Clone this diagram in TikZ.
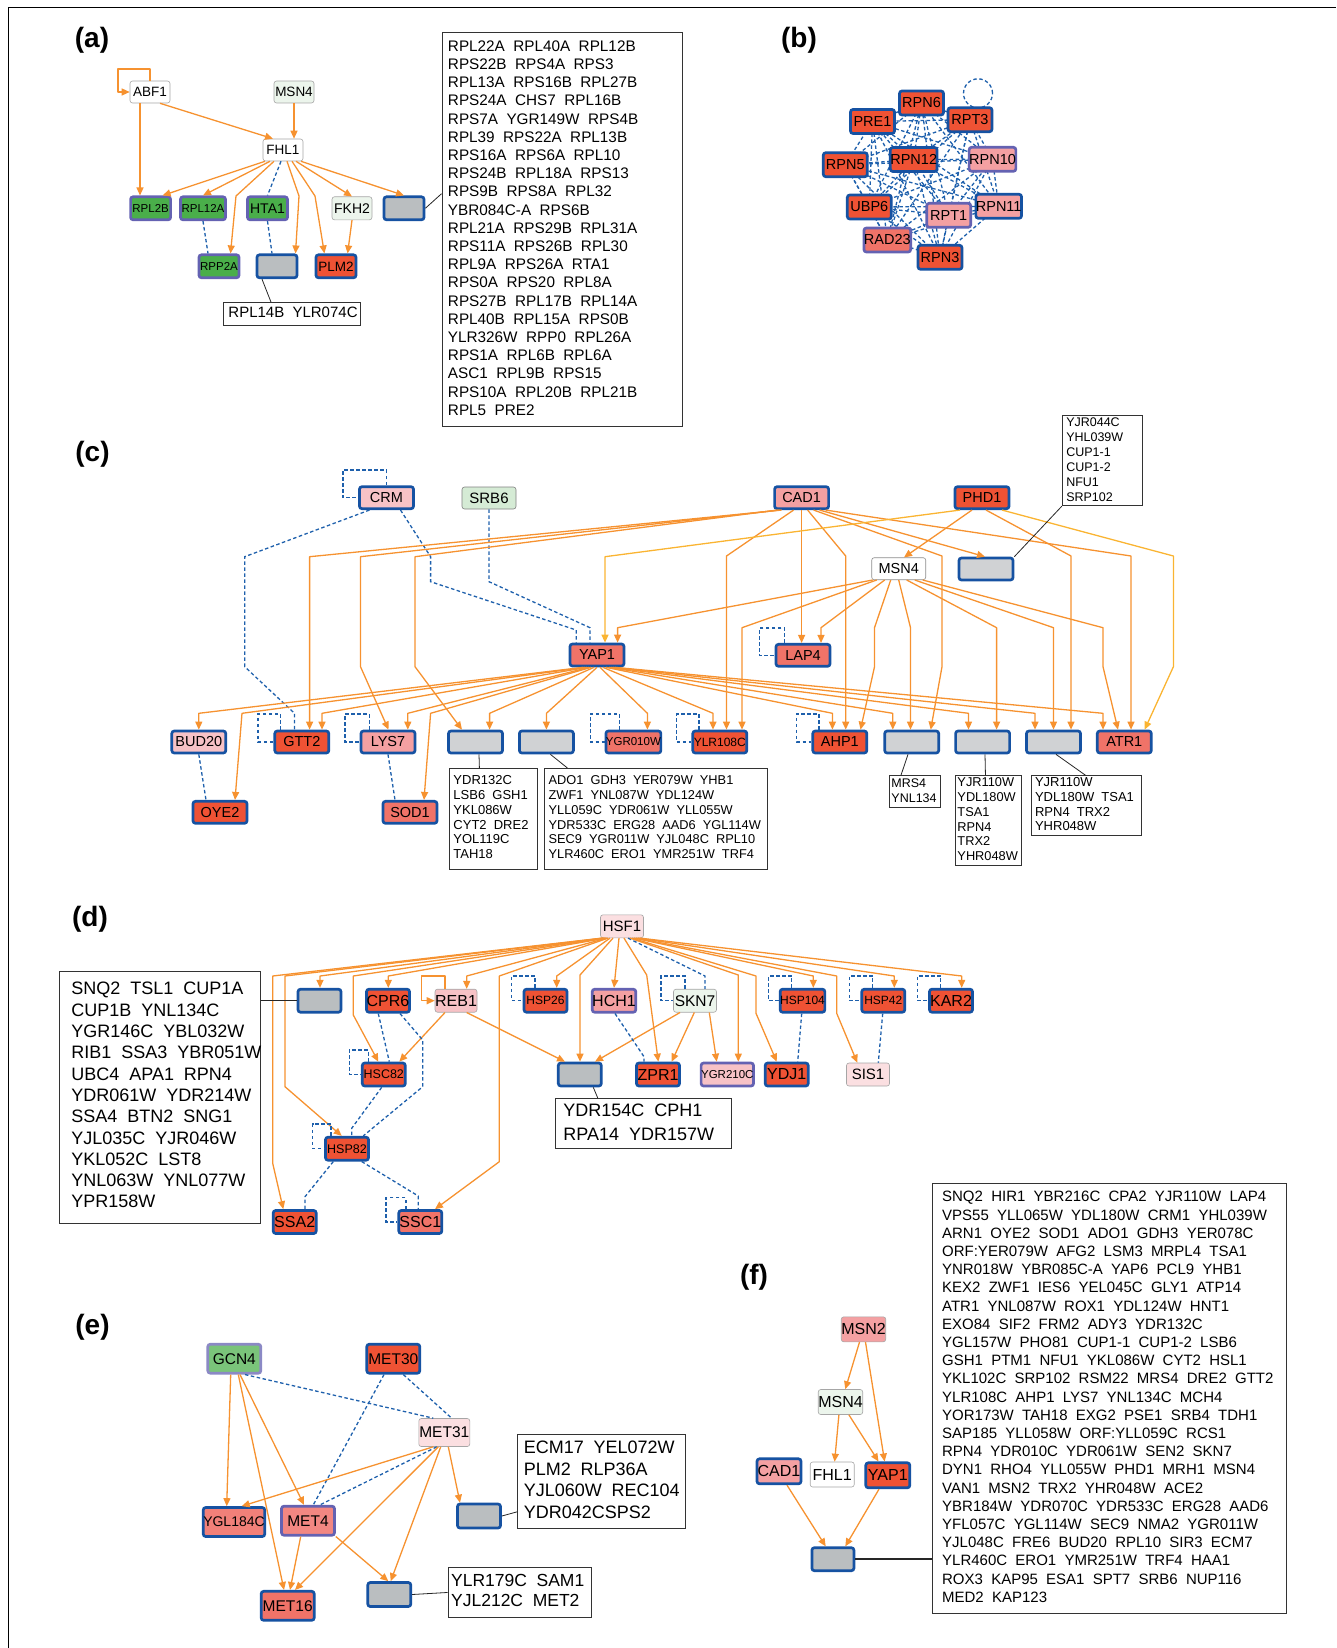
\documentclass[tikz,border=0pt]{standalone}
\usepackage{fontspec}
\setmainfont{Liberation Sans}
\usetikzlibrary{arrows.meta,calc}
\pgfdeclarelayer{background}
\pgfsetlayers{background,main}

\definecolor{tgblue}{RGB}{22,82,162}
\definecolor{tgpurple}{RGB}{100,98,178}
\definecolor{regorange}{RGB}{246,146,48}
\definecolor{regyellow}{RGB}{250,180,50}
\definecolor{ppiblue}{RGB}{30,96,172}
\definecolor{upred}{RGB}{239,82,52}
\definecolor{upsalmon}{RGB}{240,115,104}
\definecolor{uppink}{RGB}{244,160,162}
\definecolor{uplight}{RGB}{247,194,198}
\definecolor{uppale}{RGB}{251,223,225}
\definecolor{dngreen}{RGB}{74,174,74}
\definecolor{dnlight}{RGB}{122,196,122}
\definecolor{srbgreen}{RGB}{213,235,213}
\definecolor{palegreen}{RGB}{236,245,236}
\definecolor{boxgray}{RGB}{186,190,192}
\definecolor{boxgrayL}{RGB}{208,210,212}

\newcommand{\gfs}[1]{\fontsize{#1}{#1}\selectfont}
\newcommand{\glines}[1]{\noindent\begin{tabular}{@{}l@{}}#1\end{tabular}}

\tikzset{
  gene/.style={rounded corners=2.5pt, inner sep=0pt, minimum width=54pt, minimum height=22pt, font=\gfs{13}},
  plain/.style={gene, draw=black!35, line width=0.6pt, fill=white},
  tgb/.style={gene, draw=tgblue, line width=2.7pt},
  tgp/.style={gene, draw=tgpurple, line width=2.7pt},
  grayb/.style={tgb, fill=boxgray},
  reg/.style={draw=regorange, line width=1.3pt, line join=round, -{Triangle[length=8pt,width=7pt]}},
  ppi/.style={draw=ppiblue, line width=1.3pt, dash pattern=on 3.5pt off 2.5pt},
  lnk/.style={draw=black!85, line width=0.8pt},
  glist/.style={draw=black!80, line width=0.9pt, anchor=north west, align=left, inner ysep=0pt,
    execute at begin node={\spaceskip=0.55em\relax}},
  plabel/.style={font=\bfseries\gfs{28}},
}

\begin{document}
\begin{tikzpicture}[x=1pt,y=-1pt]
\useasboundingbox (0,0) rectangle (1336,1648);
\draw[line width=0.9pt] (8,1648) -- (8,7) -- (1336,7);

% (a)
\node[plabel] (la) at (92,40) {(a)};
\begin{scope}[gene/.append style={minimum width=40pt, minimum height=23pt, font=\gfs{13.5}}]
\node[plain, minimum height=22pt] (ABF1) at (150,92) {ABF1};
\node[plain, minimum height=22pt, fill=palegreen] (MSN4a) at (294,92) {MSN4};
\node[plain, minimum height=22pt] (FHL1a) at (283,150) {FHL1};
\node[tgp, fill=dngreen, font=\gfs{11.5}] (RPL2B) at (150.6,208.3) {RPL2B};
\node[tgp, fill=dngreen, font=\gfs{11.5}, minimum width=45pt] (RPL12A) at (203,208.3) {RPL12A};
\node[tgp, fill=dngreen, font=\gfs{14}] (HTA1) at (267.5,208.3) {HTA1};
\node[plain, fill=palegreen, font=\gfs{14}] (FKH2) at (352,208.3) {FKH2};
\node[grayb] (grayA1) at (404,208.3) {};
\node[tgp, fill=dngreen, font=\gfs{11.5}] (RPP2A) at (219,266.3) {RPP2A};
\node[grayb] (grayA2) at (277,266.3) {};
\node[tgb, fill=upred] (PLM2) at (336,266.3) {PLM2};
\end{scope}
\draw[reg] (ABF1.north) -- (150,69) -- (118,69) -- (118,92) -- (ABF1.west);
\draw[reg] ([xshift=10pt]ABF1.south) -- ([xshift=-10pt]FHL1a.north);
\draw[reg] ([xshift=-10pt]ABF1.south) -- ([xshift=-10.6pt]RPL2B.north);
\draw[reg] (MSN4a.south) -- ([xshift=11pt]FHL1a.north);
\draw[reg] ([xshift=-18pt]FHL1a.south) -- ([xshift=12pt]RPL2B.north);
\draw[reg] ([xshift=-13pt]FHL1a.south) -- (RPL12A.north);
\draw[reg] ([xshift=-9pt]FHL1a.south) -- (236,196) -- ([xshift=11.5pt]RPP2A.north);
\draw[ppi] ([xshift=-2pt]FHL1a.south) -- (HTA1.north);
\draw[reg] ([xshift=4pt]FHL1a.south) -- (299,196) -- ([xshift=18.5pt]grayA2.north);
\draw[reg] ([xshift=9pt]FHL1a.south) -- (315,196) -- ([xshift=-11.6pt]PLM2.north);
\draw[reg] ([xshift=13pt]FHL1a.south) -- (FKH2.north);
\draw[reg] ([xshift=18pt]FHL1a.south) -- (grayA1.north);
\draw[ppi] (RPL12A.south) -- ([xshift=-11pt]RPP2A.north);
\draw[ppi] (HTA1.south) -- ([xshift=-5pt]grayA2.north);
\draw[reg] (FKH2.south) -- ([xshift=11.6pt]PLM2.north);
\node[glist, font=\fontsize{15.3}{18.2}\selectfont, text width=228pt, minimum height=394pt, inner xsep=6pt] (lstA1) at (441.5,32.3) {\glines{RPL22A RPL40A RPL12B\\ RPS22B RPS4A RPS3\\ RPL13A RPS16B RPL27B\\ RPS24A CHS7 RPL16B\\ RPS7A YGR149W RPS4B\\ RPL39 RPS22A RPL13B\\ RPS16A RPS6A RPL10\\ RPS24B RPL18A RPS13\\ RPS9B RPS8A RPL32\\ YBR084C-A RPS6B\\ RPL21A RPS29B RPL31A\\ RPS11A RPS26B RPL30\\ RPL9A RPS26A RTA1\\ RPS0A RPS20 RPL8A\\ RPS27B RPL17B RPL14A\\ RPL40B RPL15A RPS0B\\ YLR326W RPP0 RPL26A\\ RPS1A RPL6B RPL6A\\ ASC1 RPL9B RPS15\\ RPS10A RPL20B RPL21B\\ RPL5 PRE2}};
\node[glist, font=\fontsize{15}{18}\selectfont, text width=127pt, minimum height=23pt, inner xsep=5pt] (lstA2) at (223,302) {\glines{RPL14B YLR074C}};
\draw[lnk] (grayA1.east) -- ([yshift=36pt]lstA1.west);
\draw[lnk] ([xshift=-15pt]grayA2.south) -- ([xshift=-21pt]lstA2.north);

% (b)
\node[plabel] (lb) at (799,40) {(b)};
\begin{scope}[gene/.append style={minimum width=44pt, minimum height=24pt, font=\gfs{14.5}}]
\node[tgb, fill=upred] (RPN6) at (921.5,103) {RPN6};
\node[tgb, fill=upred] (PRE1) at (872.5,121.5) {PRE1};
\node[tgb, fill=upred] (RPT3) at (970,119.7) {RPT3};
\node[tgb, fill=upred] (RPN12) at (913.7,159.5) {RPN12};
\node[tgp, fill=uppink] (RPN10) at (992.5,159.3) {RPN10};
\node[tgb, fill=upred] (RPN5) at (845.3,164.7) {RPN5};
\node[tgb, fill=upred] (UBP6) at (869.3,207) {UBP6};
\node[tgp, fill=uppink] (RPT1) at (948.7,215.3) {RPT1};
\node[tgb, fill=uppink] (RPN11) at (998.7,206.3) {RPN11};
\node[tgp, fill=upsalmon] (RAD23) at (887.3,240) {RAD23};
\node[tgb, fill=upred] (RPN3) at (940,257.3) {RPN3};
\end{scope}
\begin{pgfonlayer}{background}
\foreach \a [count=\i] in {PRE1,RPN6,RPT3,RPN5,RPN12,RPN10,UBP6,RPT1,RPN11,RAD23,RPN3}
  \foreach \b [count=\j] in {PRE1,RPN6,RPT3,RPN5,RPN12,RPN10,UBP6,RPT1,RPN11,RAD23,RPN3}
    {\ifnum\j>\i \draw[ppi] (\a.center) -- (\b.center); \fi}
\draw[ppi] ($(RPT3.north)+(8,-13)$) circle (14.5pt);
\end{pgfonlayer}

% (c)
\node[plabel] (lc) at (92.5,454) {(c)};
\begin{scope}[gene/.append style={minimum width=54pt, minimum height=22pt, font=\gfs{14.5}}]
\node[tgb, fill=uplight] (CRM) at (386.5,497.7) {CRM};
\node[plain, fill=srbgreen, draw=black!50, font=\gfs{15}] (SRB6) at (489,498) {SRB6};
\node[tgb, fill=uppink] (CAD1c) at (801.6,497.7) {CAD1};
\node[tgb, fill=upred] (PHD1) at (982,497.7) {PHD1};
\node[plain, draw=black!45] (MSN4c) at (898.7,568.7) {MSN4};
\node[grayb, fill=boxgrayL] (grayC0) at (986,569) {};
\node[tgb, fill=upsalmon] (YAP1c) at (597,655) {YAP1};
\node[tgb, fill=upsalmon] (LAP4) at (803,655.3) {LAP4};
\node[tgb, fill=uplight] (BUD20) at (198.8,742) {BUD20};
\node[tgb, fill=upred] (GTT2) at (301.8,742) {GTT2};
\node[tgb, fill=uppink] (LYS7) at (388,742) {LYS7};
\node[grayb, fill=boxgrayL] (grayC1) at (475.5,742) {};
\node[grayb, fill=boxgrayL] (grayC2) at (546.4,742) {};
\node[tgb, fill=upsalmon, font=\gfs{11.5}] (YGR010W) at (633.4,742) {YGR010W};
\node[tgb, fill=upred, font=\gfs{12}] (YLR108C) at (719.8,742) {YLR108C};
\node[tgb, fill=upred] (AHP1) at (839.8,742) {AHP1};
\node[grayb, fill=boxgrayL] (grayC3) at (911.7,742) {};
\node[grayb, fill=boxgrayL] (grayC4) at (982.6,742) {};
\node[grayb, fill=boxgrayL] (grayC5) at (1053.5,742) {};
\node[tgb, fill=upsalmon] (ATR1) at (1124.3,742) {ATR1};
\node[tgb, fill=upred] (OYE2) at (220,812.3) {OYE2};
\node[tgb, fill=upsalmon] (SOD1) at (410,812.3) {SOD1};
\end{scope}
\draw[ppi] (CRM.north) -- (386.5,470) -- (343,470) -- (343,497.7) -- (CRM.west);
\draw[ppi] ([xshift=-17pt]CRM.south) -- (244.7,556.7) -- (244.7,666.7) -- (294.5,713.3) -- ([xshift=-7.3pt]GTT2.north);
\draw[ppi] ([xshift=14pt]CRM.south) -- (430.6,556.7) -- (430.6,581.7) -- (576.2,630) -- ([xshift=-20.8pt]YAP1c.north);
\draw[ppi] (SRB6.south) -- (489,581.7) -- (590,627.7) -- ([xshift=-7pt]YAP1c.north);
\draw[reg] ([xshift=-20pt]CAD1c.south) -- (309.6,556.7) -- ([xshift=7.8pt]GTT2.north);
\draw[reg] ([xshift=-22pt]CAD1c.south) -- (360.5,556.7) -- (360.5,666.7) -- ([xshift=0.5pt]LYS7.north);
\draw[reg] ([xshift=-24pt]CAD1c.south) -- (415,556.7) -- (415,666.7) -- ([xshift=-13.5pt]grayC1.north);
\draw[reg] ([xshift=-8pt]CAD1c.south) -- (726.5,556) -- ([xshift=6.7pt]YLR108C.north);
\draw[reg] (CAD1c.south) -- ([xshift=-1.4pt]LAP4.north);
\draw[reg] ([xshift=6pt]CAD1c.south) -- (845.7,556) -- ([xshift=5.9pt]AHP1.north);
\draw[reg] ([xshift=12pt]CAD1c.south) -- (942,556) -- (942,666.7) -- ([xshift=19pt]grayC3.north);
\draw[reg] ([xshift=18pt]CAD1c.south) -- ([xshift=-1pt]grayC0.north);
\draw[reg] ([xshift=24pt]CAD1c.south) -- (1131,556) -- ([xshift=6.7pt]ATR1.north);
\draw[reg, draw=regyellow] ([xshift=-22pt]PHD1.south) -- (605,556.7) -- ([xshift=8pt]YAP1c.north);
\draw[reg] ([xshift=-10pt]PHD1.south) -- ([xshift=5.3pt]MSN4c.north);
\draw[reg] ([xshift=4pt]PHD1.south) -- (1071,556) -- ([xshift=17.5pt]grayC5.north);
\draw[reg, draw=regyellow] ([xshift=20pt]PHD1.south) -- (1173.4,556) -- (1173.4,666.7) -- ([xshift=20.3pt]ATR1.north);
\draw[reg] ([xshift=-26pt]MSN4c.south) -- (617.6,627.7) -- ([xshift=20.6pt]YAP1c.north);
\draw[reg] ([xshift=-22pt]MSN4c.south) -- (742,627.7) -- ([xshift=22.2pt]YLR108C.north);
\draw[reg] ([xshift=-14pt]MSN4c.south) -- (821,627.7) -- ([xshift=18pt]LAP4.north);
\draw[reg] ([xshift=-8pt]MSN4c.south) -- (874.5,627.7) -- (874.5,666.7) -- ([xshift=20.7pt]AHP1.north);
\draw[reg] (MSN4c.south) -- (910.5,627.7) -- ([xshift=-1.2pt]grayC3.north);
\draw[reg] ([xshift=8pt]MSN4c.south) -- (996.6,627.7) -- ([xshift=14pt]grayC4.north);
\draw[reg] ([xshift=16pt]MSN4c.south) -- (1053.5,627.7) -- (grayC5.north);
\draw[reg] ([xshift=24pt]MSN4c.south) -- (1103,627.7) -- (1103,666.7) -- ([xshift=-6.3pt]ATR1.north);
\draw[reg] ([xshift=-14pt]YAP1c.south) -- (198.8,713.3) -- (BUD20.north);
\draw[reg] ([xshift=-12pt]YAP1c.south) -- (242,713.3) -- ([xshift=15pt]OYE2.north);
\draw[reg] ([xshift=-10pt]YAP1c.south) -- (322,713.3) -- ([xshift=20.2pt]GTT2.north);
\draw[reg] ([xshift=-8pt]YAP1c.south) -- (407.8,713.3) -- ([xshift=19.8pt]LYS7.north);
\draw[reg] ([xshift=-6pt]YAP1c.south) -- (430.6,713.3) -- ([xshift=14pt]SOD1.north);
\draw[reg] ([xshift=-3pt]YAP1c.south) -- (489.6,713.3) -- ([xshift=14.1pt]grayC1.north);
\draw[reg] (YAP1c.south) -- (546.4,713.3) -- (grayC2.north);
\draw[reg] ([xshift=3pt]YAP1c.south) -- (647.4,713.3) -- ([xshift=14pt]YGR010W.north);
\draw[reg] ([xshift=6pt]YAP1c.south) -- (713,713.3) -- ([xshift=-6.8pt]YLR108C.north);
\draw[reg] ([xshift=9pt]YAP1c.south) -- (832.4,713.3) -- ([xshift=-7.4pt]AHP1.north);
\draw[reg] ([xshift=12pt]YAP1c.south) -- (892.8,713.3) -- ([xshift=-18.9pt]grayC3.north);
\draw[reg] ([xshift=14pt]YAP1c.south) -- (968.5,713.3) -- ([xshift=-14.1pt]grayC4.north);
\draw[reg] ([xshift=16pt]YAP1c.south) -- (1035,713.3) -- ([xshift=-18.5pt]grayC5.north);
\draw[reg] ([xshift=18pt]YAP1c.south) -- (1103,713.3) -- ([xshift=-21.3pt]ATR1.north);
\draw[ppi] ([xshift=-21.3pt]GTT2.north) -- (280.5,714) -- (258,714) -- (258,742) -- (GTT2.west);
\draw[ppi] ([xshift=-18.7pt]LYS7.north) -- (369.3,714) -- (345,714) -- (345,742) -- (LYS7.west);
\draw[ppi] ([xshift=-14pt]YGR010W.north) -- (619.4,714) -- (590.3,714) -- (590.3,742) -- (YGR010W.west);
\draw[ppi] ([xshift=-20.8pt]YLR108C.north) -- (699,714) -- (676.7,714) -- (676.7,742) -- (YLR108C.west);
\draw[ppi] ([xshift=-20.8pt]AHP1.north) -- (819,714) -- (796.6,714) -- (796.6,742) -- (AHP1.west);
\draw[ppi] ([xshift=-18.6pt]LAP4.north) -- (784.4,628) -- (759.5,628) -- (759.5,655.3) -- (LAP4.west);
\draw[ppi] (BUD20.south) -- ([xshift=-14pt]OYE2.north);
\draw[ppi] (LYS7.south) -- ([xshift=-15pt]SOD1.north);
\node[glist, font=\fontsize{12.5}{15}\selectfont, text width=72pt, minimum height=89.4pt, inner xsep=4pt] (lstC0) at (1061.8,415.3) {\glines{YJR044C\\ YHL039W\\ CUP1-1\\ CUP1-2\\ NFU1\\ SRP102}};
\node[glist, font=\fontsize{13}{14.8}\selectfont, text width=80.3pt, minimum height=100.7pt, inner xsep=4pt] (lstC1) at (449,768) {\glines{YDR132C\\ LSB6 GSH1\\ YKL086W\\ CYT2 DRE2\\ YOL119C\\ TAH18}};
\node[glist, font=\fontsize{12.8}{14.8}\selectfont, text width=214.8pt, minimum height=100.7pt, inner xsep=4pt] (lstC2) at (544.2,768) {\glines{ADO1 GDH3 YER079W YHB1\\ ZWF1 YNL087W YDL124W\\ YLL059C YDR061W YLL055W\\ YDR533C ERG28 AAD6 YGL114W\\ SEC9 YGR011W YJL048C RPL10\\ YLR460C ERO1 YMR251W TRF4}};
\node[glist, font=\fontsize{12.5}{15}\selectfont, text width=46.8pt, minimum height=32pt, inner xsep=2pt] (lstC3) at (889,775.3) {\glines{MRS4\\ YNL134}};
\node[glist, font=\fontsize{12.8}{14.8}\selectfont, text width=62pt, minimum height=90pt, inner xsep=2pt] (lstC4) at (955,775.3) {\glines{YJR110W\\ YDL180W\\ TSA1\\ RPN4\\ TRX2\\ YHR048W}};
\node[glist, font=\fontsize{13}{14.8}\selectfont, text width=102pt, minimum height=60pt, inner xsep=4pt] (lstC5) at (1030.6,775.3) {\glines{YJR110W\\ YDL180W TSA1\\ RPN4 TRX2\\ YHR048W}};
\draw[lnk] (grayC0.north east) -- (lstC0.south west);
\draw[lnk] ([xshift=3.5pt]grayC1.south) -- ([xshift=-14.2pt]lstC1.north);
\draw[lnk] ([xshift=4pt]grayC2.south) -- ([xshift=-88.6pt]lstC2.north);
\draw[lnk] ([xshift=-3.7pt]grayC3.south) -- ([xshift=-13.9pt]lstC3.north);
\draw[lnk] ([xshift=2.4pt]grayC4.south) -- ([xshift=-3pt]lstC4.north);
\draw[lnk] ([xshift=2.5pt]grayC5.south) -- ([xshift=-0.5pt]lstC5.north);

% (d)
\node[plabel] (ld) at (90,919) {(d)};
\begin{scope}[gene/.append style={minimum width=43pt, minimum height=23pt, font=\gfs{15}}]
\node[plain, fill=uppale] (HSF1) at (622,926.3) {HSF1};
\node[grayb] (grayD1) at (319.5,1000.7) {};
\node[tgb, fill=upred, font=\gfs{16}] (CPR6) at (388,1000.7) {CPR6};
\node[plain, fill=uplight, minimum width=42pt, font=\gfs{16}] (REB1) at (456,1000.7) {REB1};
\node[tgb, fill=upred, font=\gfs{12}] (HSP26) at (545.5,1000.7) {HSP26};
\node[tgp, fill=uppink, font=\gfs{16}] (HCH1) at (614,1000.7) {HCH1};
\node[plain, fill=palegreen, font=\gfs{15.5}] (SKN7) at (695,1000.7) {SKN7};
\node[tgb, fill=upred, font=\gfs{12}] (HSP104) at (802.5,1000.7) {HSP104};
\node[tgb, fill=upred, font=\gfs{12}] (HSP42) at (883.3,1000.7) {HSP42};
\node[tgb, fill=upred, font=\gfs{16}] (KAR2) at (951,1000.7) {KAR2};
\node[tgb, fill=upred, font=\gfs{12.5}] (HSC82) at (383.8,1074.5) {HSC82};
\node[grayb] (grayD2) at (579.8,1074.5) {};
\node[tgb, fill=upred, font=\gfs{16}] (ZPR1) at (658,1074.5) {ZPR1};
\node[tgp, fill=uplight, font=\gfs{11.5}] (YGR210C) at (727.3,1074.5) {YGR210C};
\node[tgb, fill=upred, font=\gfs{16}] (YDJ1) at (786.7,1074.5) {YDJ1};
\node[plain, fill=uppale] (SIS1) at (868,1074.5) {SIS1};
\node[tgb, fill=upred, font=\gfs{12.5}] (HSP82) at (347,1148.7) {HSP82};
\node[tgb, fill=upred, font=\gfs{16}] (SSA2) at (294.7,1222) {SSA2};
\node[tgb, fill=upsalmon, font=\gfs{16}] (SSC1) at (420.3,1222) {SSC1};
\end{scope}
\draw[reg] ([xshift=-20pt]HSF1.south) -- (272.7,976) -- (272.7,1163.3) -- ([xshift=-11.4pt]SSA2.north);
\draw[reg] ([xshift=-19pt]HSF1.south) -- (285,976) -- (285,1086.7) -- ([xshift=-5.3pt]HSP82.north);
\draw[reg] ([xshift=-18pt]HSF1.south) -- (320,976) -- ([xshift=0.5pt]grayD1.north);
\draw[reg] ([xshift=-17pt]HSF1.south) -- (353.3,976) -- (353.3,1015) -- ([xshift=-5.5pt]HSC82.north);
\draw[reg] ([xshift=-16pt]HSF1.south) -- (388.3,976) -- ([xshift=0.3pt]CPR6.north);
\draw[reg] ([xshift=-15pt]HSF1.south) -- (466.7,976) -- ([xshift=10.7pt]REB1.north);
\draw[reg] ([xshift=-14pt]HSF1.south) -- (499.3,976) -- (499.3,1161.7) -- ([xshift=14.7pt]SSC1.north);
\draw[reg] ([xshift=-12pt]HSF1.south) -- (556.7,976) -- ([xshift=11.2pt]HSP26.north);
\draw[reg] ([xshift=-9pt]HSF1.south) -- (580,975) -- ([xshift=0.2pt]grayD2.north);
\draw[reg] ([xshift=-3pt]HSF1.south) -- (HCH1.north);
\draw[reg] ([xshift=2pt]HSF1.south) -- (646.7,975) -- ([xshift=0.3pt]ZPR1.north);
\draw[ppi] ([xshift=6pt]HSF1.south) -- (705,976) -- ([xshift=10pt]SKN7.north);
\draw[reg] ([xshift=8pt]HSF1.south) -- (738.3,975) -- ([xshift=11pt]YGR210C.north);
\draw[reg] ([xshift=10pt]HSF1.south) -- (756,976) -- (756,1013.3) -- ([xshift=-10pt]YDJ1.north);
\draw[reg] ([xshift=12pt]HSF1.south) -- (813.3,976) -- ([xshift=10.8pt]HSP104.north);
\draw[reg] ([xshift=14pt]HSF1.south) -- (836.7,976) -- (836.7,1013.3) -- ([xshift=-10.7pt]SIS1.north);
\draw[reg] ([xshift=16pt]HSF1.south) -- (894.3,976) -- ([xshift=11pt]HSP42.north);
\draw[reg] ([xshift=18pt]HSF1.south) -- (961.7,976) -- ([xshift=10.7pt]KAR2.north);
\draw[reg] ([xshift=-11pt]REB1.north) -- (445,976) -- (421.7,976) -- (421.7,1000.7) -- (REB1.west);
\draw[reg] ([xshift=10.7pt]REB1.south) -- ([xshift=-14.8pt]grayD2.north);
\draw[reg] ([xshift=-11pt]REB1.south) -- ([xshift=15.5pt]HSC82.north);
\draw[reg] ([xshift=-15pt]SKN7.south) -- ([xshift=15.2pt]grayD2.north);
\draw[reg] ([xshift=-0.7pt]SKN7.south) -- ([xshift=13.7pt]ZPR1.north);
\draw[reg] ([xshift=14.3pt]SKN7.south) -- ([xshift=-10.6pt]YGR210C.north);
\draw[ppi] ([xshift=1pt]HCH1.south) -- (644,1056.7) -- ([xshift=-14pt]ZPR1.north);
\draw[ppi] ([xshift=-0.8pt]HSP104.south) -- ([xshift=11pt]YDJ1.north);
\draw[ppi] ([xshift=-0.6pt]HSP42.south) -- ([xshift=10.3pt]SIS1.north);
\draw[ppi] ([xshift=-9.7pt]CPR6.south) -- ([xshift=5.5pt]HSC82.north);
\draw[ppi] ([xshift=12pt]CPR6.south) -- (422.7,1040) -- (422.7,1086.7) -- ([xshift=16.3pt]HSP82.north);
\draw[ppi] ([xshift=-2.1pt]HSC82.south) -- (351.7,1128.3) -- ([xshift=4.7pt]HSP82.north);
\draw[ppi] ([xshift=-13.7pt]HSP82.south) -- (305,1196.7) -- ([xshift=10.3pt]SSA2.north);
\draw[ppi] ([xshift=14.7pt]HSP82.south) -- (418.3,1196) -- ([xshift=-2pt]SSC1.north);
\draw[ppi] ([xshift=-10.5pt]HSP26.north) -- (535,976) -- (511.7,976) -- (511.7,1000.7) -- (HSP26.west);
\draw[ppi] ([xshift=-10pt]SKN7.north) -- (685,976) -- (661,976) -- (661,1000.7) -- (SKN7.west);
\draw[ppi] ([xshift=-10.8pt]HSP104.north) -- (791.7,976) -- (768.7,976) -- (768.7,1000.7) -- (HSP104.west);
\draw[ppi] ([xshift=-10.6pt]HSP42.north) -- (872.7,976) -- (849.3,976) -- (849.3,1000.7) -- (HSP42.west);
\draw[ppi] ([xshift=-10.3pt]KAR2.north) -- (940.7,976) -- (917.3,976) -- (917.3,1000.7) -- (KAR2.west);
\draw[ppi] ([xshift=-15.5pt]HSC82.north) -- (368.3,1050) -- (349.3,1050) -- (349.3,1074.5) -- (HSC82.west);
\draw[ppi] ([xshift=-16pt]HSP82.north) -- (331,1124) -- (312.7,1124) -- (312.7,1148.7) -- (HSP82.west);
\draw[ppi] ([xshift=-14.3pt]SSC1.north) -- (406,1197.7) -- (386,1197.7) -- (386,1222) -- (SSC1.west);
\node[glist, font=\fontsize{18}{21.3}\selectfont, text width=177pt, minimum height=252pt, inner xsep=12pt] (lstD1) at (59,970.7) {\glines{SNQ2 TSL1 CUP1A\\ CUP1B YNL134C\\ YGR146C YBL032W\\ RIB1 SSA3 YBR051W\\ UBC4 APA1 RPN4\\ YDR061W YDR214W\\ SSA4 BTN2 SNG1\\ YJL035C YJR046W\\ YKL052C LST8\\ YNL063W YNL077W\\ YPR158W}};
\node[glist, font=\fontsize{18}{24}\selectfont, text width=160pt, minimum height=50pt, inner xsep=8pt] (lstD2) at (555,1098) {\glines{YDR154C CPH1\\ RPA14 YDR157W}};
\draw[lnk] (grayD1.west) -- (grayD1.west -| lstD1.east);
\draw[lnk] ([xshift=13.5pt]grayD2.south) -- ([xshift=-45.7pt]lstD2.north);

% (e)
\node[plabel] (le) at (92.5,1327.6) {(e)};
\begin{scope}[gene/.append style={minimum width=53pt, minimum height=29pt, font=\gfs{15.5}}]
\node[tgp, fill=dnlight, draw=tgpurple!75] (GCN4) at (234.3,1358.7) {GCN4};
\node[tgb, fill=upred] (MET30) at (393.3,1358.7) {MET30};
\node[plain, fill=uppale, minimum width=51pt, minimum height=28pt] (MET31) at (444.3,1432.5) {MET31};
\node[tgb, fill=upsalmon!70!uppink, font=\gfs{14}] (YGL184C) at (234,1522) {YGL184C};
\node[tgp, fill=upsalmon!55!uppink] (MET4) at (308,1520.7) {MET4};
\node[grayb, minimum width=43pt, minimum height=24pt] (grayE1) at (479,1516) {};
\node[tgb, fill=upsalmon] (MET16) at (287.7,1605.8) {MET16};
\node[grayb, minimum width=43pt, minimum height=24pt] (grayE2) at (389.3,1594.5) {};
\end{scope}
\draw[reg] ([xshift=-3.6pt]GCN4.south) -- ([xshift=-7.3pt]YGL184C.north);
\draw[reg] ([xshift=4pt]GCN4.south) -- ([xshift=-3.7pt]MET16.north);
\draw[reg] ([xshift=5.7pt]GCN4.south) -- ([xshift=-4pt]MET4.north);
\draw[ppi] ([xshift=10.7pt]GCN4.south) -- ([xshift=-11pt]MET31.north);
\draw[ppi] ([xshift=-9.3pt]MET30.south) -- ([xshift=5.3pt]MET4.north);
\draw[ppi] ([xshift=10pt]MET30.south) -- ([xshift=7.4pt]MET31.north);
\draw[reg] ([xshift=-11pt]MET31.south) -- ([xshift=7.7pt]YGL184C.north);
\draw[ppi] ([xshift=-7.6pt]MET31.south) -- ([xshift=12pt]MET4.north);
\draw[reg] ([xshift=-6pt]MET31.south) -- ([xshift=7.3pt]MET16.north);
\draw[reg] ([xshift=-3.6pt]MET31.south) -- ([xshift=1.4pt]grayE2.north);
\draw[reg] ([xshift=4pt]MET31.south) -- ([xshift=-19pt]grayE1.north);
\draw[reg] ([xshift=-7.3pt]MET4.south) -- ([xshift=2.3pt]MET16.north);
\draw[reg] (MET4.south east) -- ([xshift=-1pt]grayE2.north);
\node[glist, font=\fontsize{18}{21.7}\selectfont, text width=155.7pt, minimum height=94pt, inner xsep=6pt] (lstE1) at (517.3,1434.3) {\glines{ECM17 YEL072W\\ PLM2 RLP36A\\ YJL060W REC104\\ YDR042CSPS2}};
\node[glist, font=\fontsize{17.5}{20}\selectfont, text width=137pt, minimum height=50.6pt, inner xsep=3pt] (lstE2) at (447.7,1566.7) {\glines{YLR179C SAM1\\ YJL212C MET2}};
\draw[lnk] (grayE1.east) -- ([yshift=-30pt]lstE1.west);
\draw[lnk] (grayE2.east) -- (lstE2.west);

% (f)
\node[plabel] (lf) at (754,1277) {(f)};
\begin{scope}[gene/.append style={minimum width=44pt, minimum height=25pt, font=\gfs{16}}]
\node[plain, fill=uppink] (MSN2) at (863.5,1329.3) {MSN2};
\node[plain, fill=palegreen] (MSN4f) at (840.5,1402) {MSN4};
\node[tgb, fill=uppink] (CAD1f) at (779,1471.3) {CAD1};
\node[plain] (FHL1f) at (832.2,1474.5) {FHL1};
\node[tgb, fill=upred] (YAP1f) at (887.8,1475.3) {YAP1};
\node[grayb, minimum width=42pt, minimum height=23pt] (grayF) at (832.9,1559.2) {};
\end{scope}
\draw[reg] ([xshift=-4pt]MSN2.south) -- ([xshift=4.8pt]MSN4f.north);
\draw[reg] ([xshift=2pt]MSN2.south) -- ([xshift=-3.2pt]YAP1f.north);
\draw[reg] ([xshift=-1.6pt]MSN4f.south) -- ([xshift=2.4pt]FHL1f.north);
\draw[reg] ([xshift=8.4pt]MSN4f.south) -- ([xshift=-9.3pt]YAP1f.north);
\draw[reg] ([xshift=8pt]CAD1f.south) -- ([xshift=-7.2pt]grayF.north);
\draw[reg] ([xshift=-8.8pt]YAP1f.south) -- ([xshift=12.4pt]grayF.north);
\node[glist, font=\fontsize{15}{18.2}\selectfont, text width=333.8pt, minimum height=430.6pt, inner xsep=10pt] (lstF) at (931.7,1182.7) {\glines{SNQ2 HIR1 YBR216C CPA2 YJR110W LAP4\\ VPS55 YLL065W YDL180W CRM1 YHL039W\\ ARN1 OYE2 SOD1 ADO1 GDH3 YER078C\\ ORF:YER079W AFG2 LSM3 MRPL4 TSA1\\ YNR018W YBR085C-A YAP6 PCL9 YHB1\\ KEX2 ZWF1 IES6 YEL045C GLY1 ATP14\\ ATR1 YNL087W ROX1 YDL124W HNT1\\ EXO84 SIF2 FRM2 ADY3 YDR132C\\ YGL157W PHO81 CUP1-1 CUP1-2 LSB6\\ GSH1 PTM1 NFU1 YKL086W CYT2 HSL1\\ YKL102C SRP102 RSM22 MRS4 DRE2 GTT2\\ YLR108C AHP1 LYS7 YNL134C MCH4\\ YOR173W TAH18 EXG2 PSE1 SRB4 TDH1\\ SAP185 YLL058W ORF:YLL059C RCS1\\ RPN4 YDR010C YDR061W SEN2 SKN7\\ DYN1 RHO4 YLL055W PHD1 MRH1 MSN4\\ VAN1 MSN2 TRX2 YHR048W ACE2\\ YBR184W YDR070C YDR533C ERG28 AAD6\\ YFL057C YGL114W SEC9 NMA2 YGR011W\\ YJL048C FRE6 BUD20 RPL10 SIR3 ECM7\\ YLR460C ERO1 YMR251W TRF4 HAA1\\ ROX3 KAP95 ESA1 SPT7 SRB6 NUP116\\ MED2 KAP123}};
\draw[lnk, line width=1.6pt] (grayF.east) -- (grayF.east -| lstF.west);
\end{tikzpicture}
\end{document}
